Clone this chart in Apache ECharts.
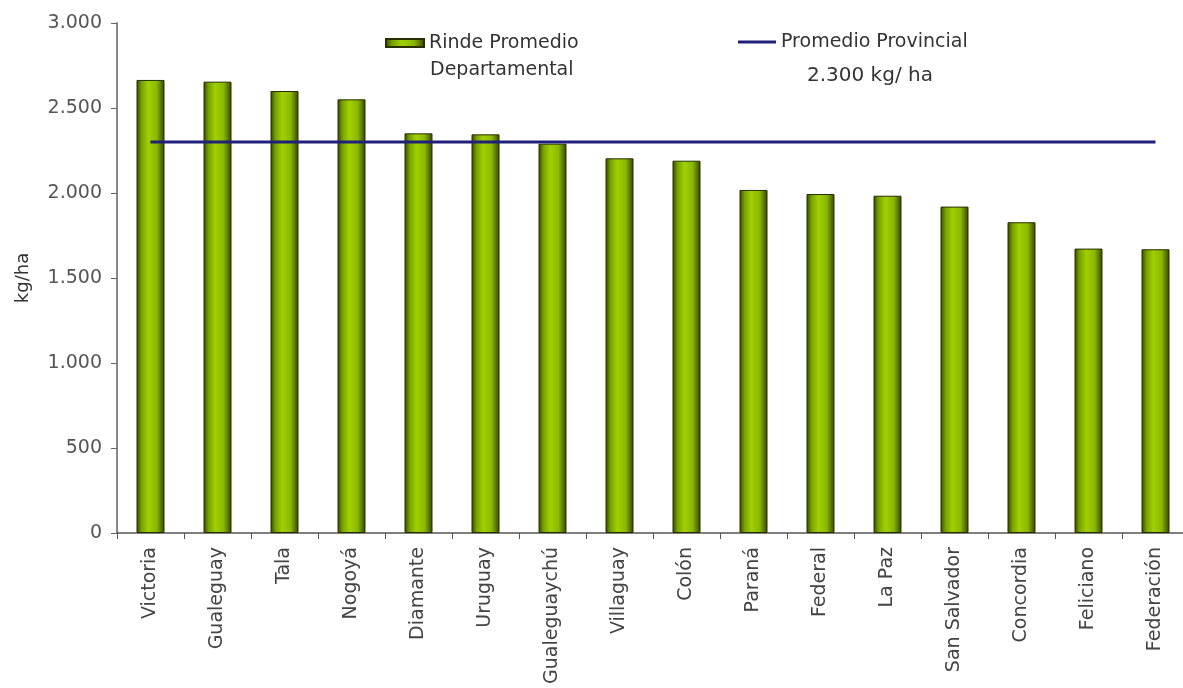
<!DOCTYPE html>
<html>
<head>
<meta charset="utf-8">
<script src="https://cdn.jsdelivr.net/npm/echarts@6/dist/echarts.min.js"></script>
<style>html,body{margin:0;padding:0;background:#fff;}#c{width:1183px;height:688px;}</style>
</head>
<body>
<div id="c"></div>
<script>
const categories = ["Victoria","Gualeguay","Tala","Nogoyá","Diamante","Uruguay","Gualeguaychú","Villaguay","Colón","Paraná","Federal","La Paz","San Salvador","Concordia","Feliciano","Federación"];
const rindeDepartamental = [2665, 2655, 2600, 2551, 2351, 2345, 2290, 2204, 2190, 2018, 1994, 1984, 1920, 1828, 1673, 1669];
const promedioProvincial = [2300, 2300, 2300, 2300, 2300, 2300, 2300, 2300, 2300, 2300, 2300, 2300, 2300, 2300, 2300, 2300];
const yTicks = [0, 500, 1000, 1500, 2000, 2500, 3000];
const barSeriesName = 'Rinde Promedio Departamental';
const lineSeriesName = 'Promedio Provincial';
const barLegendLines = ['Rinde Promedio', 'Departamental'];
const lineLegendLines = ['Promedio Provincial', '2.300 kg/ ha'];

const fmt = v => String(v).replace(/\B(?=(\d{3})+(?!\d))/g, '.');
const font = '"DejaVu Sans", Verdana, sans-serif';

const chart = echarts.init(document.getElementById('c'), null, {renderer: 'canvas'});
const barGrad = new echarts.graphic.LinearGradient(0, 0, 1, 0, [
  {offset: 0, color: '#364400'},
  {offset: 0.18, color: '#76a200'},
  {offset: 0.42, color: '#a2cf00'},
  {offset: 0.72, color: '#8ab800'},
  {offset: 1, color: '#364400'}
]);
chart.setOption({
  animation: false,
  backgroundColor: '#ffffff',
  grid: {left: 117, top: 23, width: 1072, height: 510, containLabel: false, outerBoundsMode: 'none'},
  legend: [
    {
      data: [{name: barSeriesName}],
      formatter: () => barLegendLines[0],
      left: 385, top: 32, padding: 0, itemWidth: 38, itemHeight: 8, icon: 'rect',
      textStyle: {fontFamily: font, fontSize: 19, color: '#333', lineHeight: 22}
    },
    {
      data: [{name: lineSeriesName, icon: 'path://M0,0 L40,0 L40,3 L0,3 Z'}],
      formatter: () => lineLegendLines[0],
      left: 738, top: 31, padding: 0, itemWidth: 38, itemHeight: 3,
      textStyle: {fontFamily: font, fontSize: 19, color: '#333', lineHeight: 22}
    }
  ],
  graphic: [
    {type: 'text', x: 430, y: 70,
     style: {text: barLegendLines[1], font: '19px ' + font, fill: '#333', verticalAlign: 'middle'}},
    {type: 'text', x: 807, y: 76,
     style: {text: lineLegendLines[1], font: '20px ' + font, fill: '#333', verticalAlign: 'middle'}}
  ],
  xAxis: {
    type: 'category',
    data: categories,
    boundaryGap: true,
    axisLine: {lineStyle: {color: '#555', width: 1.5}},
    axisTick: {show: true, alignWithLabel: false, length: 6, inside: false, lineStyle: {color: '#555'}},
    axisLabel: {rotate: 90, interval: 0, fontFamily: font, fontSize: 19, color: '#444', margin: 14},
    splitLine: {show: false}
  },
  yAxis: {
    type: 'value',
    min: 0, max: 3000, interval: 500,
    name: 'kg/ha', nameLocation: 'middle', nameGap: 85, nameRotate: 90,
    nameTextStyle: {fontFamily: font, fontSize: 18, color: '#333'},
    axisLine: {show: true, lineStyle: {color: '#888', width: 2}},
    axisTick: {show: true, length: 6, lineStyle: {color: '#666'}},
    axisLabel: {fontFamily: font, fontSize: 19, color: '#555', margin: 15,
      formatter: v => yTicks.includes(v) ? fmt(v) : ''},
    splitLine: {show: false}
  },
  series: [
    {
      name: barSeriesName,
      type: 'bar',
      data: rindeDepartamental,
      barWidth: 28,
      itemStyle: {color: barGrad, borderColor: '#263000', borderWidth: 1},
      z: 2
    },
    {
      name: lineSeriesName,
      type: 'line',
      data: promedioProvincial,
      symbol: 'none',
      lineStyle: {color: '#20207a', width: 3},
      itemStyle: {color: '#20207a'},
      z: 3
    }
  ]
});
</script>
</body>
</html>
